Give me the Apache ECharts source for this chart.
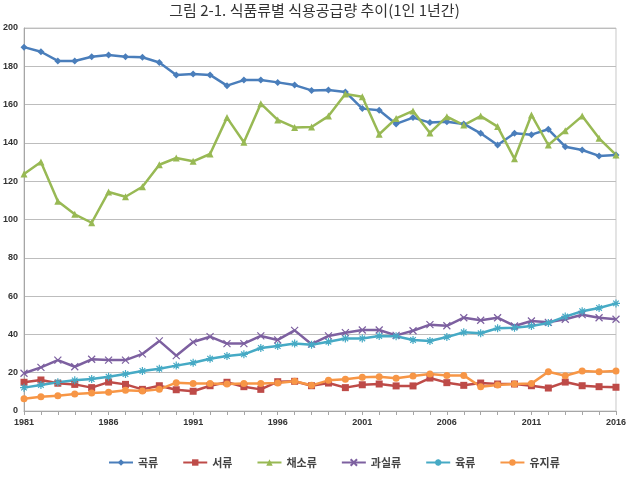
<!DOCTYPE html>
<html>
<head>
<meta charset="utf-8">
<script src="https://cdn.jsdelivr.net/npm/echarts@6/dist/echarts.min.js"></script>
<style>
  html, body { margin: 0; padding: 0; background: #fff; }
  #chart { width: 629px; height: 480px; }
</style>
</head>
<body>
<div id="chart"></div>
<script>
const years = []
for (let y = 1981; y <= 2016; y++) years.push(String(y))

const grains = [190, 187.6, 182.8, 182.8, 185, 185.9, 185, 184.7, 182, 175.5, 176, 175.5, 169.9, 172.8, 172.8, 171.6, 170.2, 167.4,
  167.6, 166.6, 157.9, 157, 149.9, 153.2, 150.6, 151.1, 149.9, 145, 138.9, 145, 144.3, 147.1, 138, 136.3, 133.2, 133.7]
const tubers = [15, 16.2, 14.5, 13.9, 12.2, 15.1, 13.9, 11.3, 13.2, 11.1, 10.3, 13.2, 15, 12.7, 11.3, 15.3, 15.5, 13.2,
  14.6, 12.2, 13.7, 14.1, 13.1, 13.1, 17.2, 14.8, 13.4, 14.6, 14.1, 14.1, 13.2, 12, 15.1, 13.2, 12.7, 12.4]
const vegetables = [123.8, 130, 109.5, 102.7, 98.3, 114.4, 111.9, 117.1, 128.6, 132.1, 130.4, 134.2, 153.2, 140.3, 160.5, 152, 148.1, 148.3,
  154, 165.5, 164.1, 144.5, 152.8, 156.7, 145.2, 153.7, 149.3, 154, 148.5, 131.7, 154.6, 138.9, 146.4, 154, 142.4, 133.7]
const fruits = [19.7, 22.8, 26.6, 23.1, 27, 26.6, 26.6, 29.8, 36.6, 28.9, 36, 38.8, 35.2, 35.2, 39.2, 37.1, 42.1, 34.9,
  39.2, 40.9, 42.3, 42.3, 39.5, 41.9, 45.1, 44.5, 48.7, 47.4, 48.7, 44.4, 47, 46.3, 47.9, 50.3, 48.7, 47.9]
const meats = [12.2, 13.6, 15, 16, 16.7, 17.9, 19.3, 20.9, 22.1, 23.7, 25.2, 27.3, 28.7, 29.6, 32.9, 33.9, 35.2, 34.6,
  36.2, 37.9, 37.9, 39.2, 39, 37.1, 36.6, 38.6, 41.1, 40.6, 43.2, 43.5, 44.4, 46, 49.3, 52.1, 53.8, 56.2]
const oils = [6.4, 7.5, 8, 8.9, 9.4, 9.8, 10.8, 10.4, 11.3, 14.8, 14.3, 14.3, 14.1, 14.3, 14.3, 14.6, 15.5, 13.4,
  16, 16.6, 17.6, 17.9, 17.1, 18.3, 19.3, 18.6, 18.6, 12.7, 13.6, 14.1, 14.3, 20.5, 18.4, 20.9, 20.5, 20.9]

const chart = echarts.init(document.getElementById('chart'), null, { renderer: 'canvas' })

const xMark = 'path://M0,0L10,10M10,0L0,10'
const starMark = 'path://M0,5L10,5M5,0L5,10M1.5,1.5L8.5,8.5M8.5,1.5L1.5,8.5'

const makeSeries = (name, data, color, symbol, size, stroke) => ({
  name,
  type: 'line',
  data,
  symbol,
  symbolSize: size,
  showSymbol: true,
  lineStyle: { color, width: 2.5 },
  itemStyle: stroke
    ? { color: 'rgba(0,0,0,0)', borderColor: color, borderWidth: 1.2 }
    : { color },
  emphasis: { disabled: true }
})

const option = {
  animation: false,
  title: {
    text: '그림 2-1. 식품류별 식용공급량 추이(1인 1년간)',
    left: 'center',
    top: -2,
    textStyle: { fontFamily: 'Noto Sans CJK KR', fontSize: 15, fontWeight: 'normal', color: '#333' }
  },
  legend: {
    bottom: 7,
    left: 103,
    itemGap: 24,
    itemWidth: 24,
    itemHeight: 8,
    textStyle: { fontFamily: 'Noto Sans CJK KR', fontSize: 11, fontWeight: 'bold', color: '#444' },
    data: ['곡류', '서류', '채소류', '과실류', '육류', '유지류']
  },
  grid: {
    left: 20,
    right: 7,
    top: 28,
    bottom: 69,
    show: true,
    borderColor: '#c8c8c8',
    borderWidth: 1
  },
  xAxis: {
    type: 'category',
    data: years,
    boundaryGap: false,
    axisLine: { lineStyle: { color: '#a6a6a6' } },
    axisTick: { show: true, interval: 0, length: 4, lineStyle: { color: '#a6a6a6' } },
    axisLabel: {
      interval: 4,
      margin: 7,
      fontFamily: 'Liberation Sans',
      fontSize: 9,
      fontWeight: 'bold',
      color: '#333'
    }
  },
  yAxis: {
    type: 'value',
    min: 0,
    max: 200,
    interval: 20,
    axisLine: { show: true, lineStyle: { color: '#a6a6a6' } },
    axisTick: { show: false },
    splitLine: { lineStyle: { color: '#bdbdbd', width: 1 } },
    axisLabel: {
      margin: 6,
      fontFamily: 'Liberation Sans',
      fontSize: 9,
      fontWeight: 'bold',
      color: '#333'
    }
  },
  series: [
    makeSeries('곡류', grains, '#4a7ebb', 'diamond', 7),
    makeSeries('서류', tubers, '#be4b48', 'rect', 7),
    makeSeries('채소류', vegetables, '#98b954', 'triangle', 7),
    makeSeries('과실류', fruits, '#7d60a0', xMark, 7, true),
    makeSeries('육류', meats, '#46aac5', starMark, 8, true),
    makeSeries('유지류', oils, '#f79646', 'circle', 7)
  ]
}

chart.setOption(option)

window.addEventListener('resize', () => chart.resize())
</script>
</body>
</html>
